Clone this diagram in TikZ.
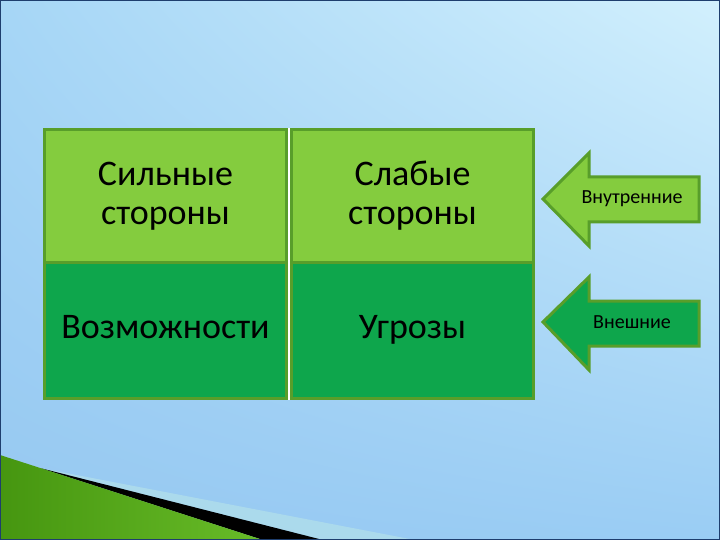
\documentclass[tikz,border=0pt]{standalone}
\usepackage{fontspec}
\setmainfont{Carlito}
\usetikzlibrary{positioning,shadings}
\definecolor{bgTL}{RGB}{166,214,246}
\definecolor{bgTR}{RGB}{210,240,253}
\definecolor{bgBL}{RGB}{150,200,241}
\definecolor{bgBR}{RGB}{154,205,244}
\definecolor{frameB}{RGB}{30,62,110}
\definecolor{lightG}{RGB}{132,204,62}
\definecolor{darkG}{RGB}{14,166,76}
\definecolor{edgeG}{RGB}{88,158,42}
\definecolor{grassD}{RGB}{70,150,16}
\definecolor{grassL}{RGB}{142,218,74}
\definecolor{grassM}{RGB}{104,188,40}
\definecolor{paleB}{RGB}{184,228,232}

\begin{document}
\begin{tikzpicture}[x=1pt,y=-1pt]
  \tikzset{cell/.style={draw=edgeG,line width=3pt,fill=#1,minimum width=242pt,align=center,inner sep=0pt,font=\fontsize{36}{39}\selectfont},
    arr/.style={draw=edgeG,line width=3pt,fill=#1,line join=miter},
    lbl/.style={font=\fontsize{20}{22}\selectfont,inner sep=1pt}}
  \useasboundingbox (0,0) rectangle (720,540);
  \shade[upper left=bgTL,upper right=bgTR,lower left=bgBL,lower right=bgBR] (0,0) rectangle (720,540);
  % corner decoration
  \fill[paleB,opacity=0.6] (40,468) -- (415,540) -- (323,540) -- cycle;
  \fill[black] (40,468) -- (323,540) -- (263,540) -- cycle;
  \shade[left color=grassD,middle color=grassL,right color=grassM] (0,455) -- (263,540) -- (0,540) -- cycle;
  % swot grid
  \node[cell=lightG,minimum height=133pt] (str) at (165.5,196) {Сильные\\стороны};
  \node[cell=lightG,minimum height=133pt,right=2pt of str] (weak) {Слабые\\стороны};
  \fill[white] (str.north east) rectangle (weak.south west);
  \node[cell=darkG,minimum height=136pt,below=-3pt of str] (opp) {Возможности\strut};
  \node[cell=darkG,minimum height=136pt,below=-3pt of weak] (thr) {Угрозы\strut};
  \fill[white] (opp.north east) rectangle (thr.south west);
  % arrows
  \draw[arr=lightG] (543,199) -- (589,153) -- (589,177) -- (699,177) -- (699,222) -- (589,222) -- (589,246) -- cycle;
  \node[lbl] (inner) at (632,199) {Внутренние};
  \draw[arr=darkG] (543,322) -- (589,277) -- (589,301) -- (699,301) -- (699,346) -- (589,346) -- (589,370) -- cycle;
  \node[lbl] (outer) at (632,322) {Внешние};
  \draw[frameB,line width=1.5pt] (0,0) rectangle (720,540);
\end{tikzpicture}
\end{document}
